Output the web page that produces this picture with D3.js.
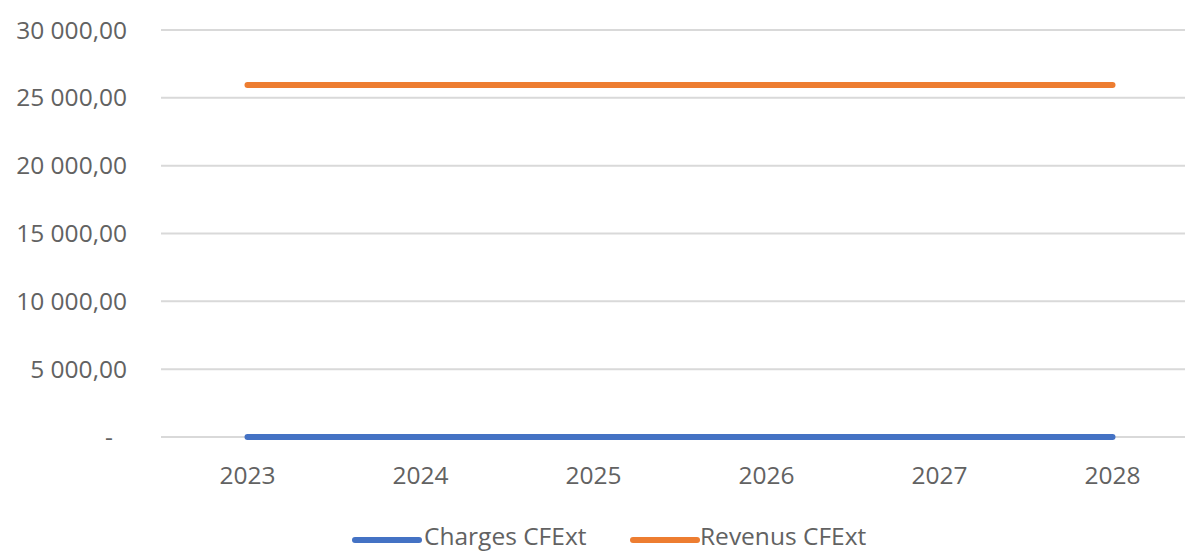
<!DOCTYPE html>
<html lang="fr">
<head>
  <meta charset="UTF-8">
  <title>CFExt</title>
  <style>
    body { margin: 0; background: #fff; }
    text { font-family: "Open Sans", sans-serif; fill: #626262; }
  </style>
</head>
<body>
  <script src="https://d3js.org/d3.v7.min.js"></script>
  <script>
    const years = ["2023", "2024", "2025", "2026", "2027", "2028"];
    const charges = [0, 0, 0, 0, 0, 0];
    const revenus = [25950, 25950, 25950, 25950, 25950, 25950];
    const seriesNames = ["Charges CFExt", "Revenus CFExt"];
    const colors = ["#4472C4", "#ED7D31"];
    const yTicks = [0, 5000, 10000, 15000, 20000, 25000, 30000];

    const width = 1185, height = 552;
    const svg = d3.select("body").append("svg")
      .attr("width", width).attr("height", height);

    const x = d3.scalePoint().domain(years).range([161, 1199]).padding(0.5);
    const y = d3.scaleLinear().domain([0, 30000]).range([437, 30]);

    const fr = d3.formatLocale({ decimal: ",", thousands: "\u00a0", grouping: [3], currency: ["", ""] });
    const fmt = v => v === 0 ? "-" : fr.format(",.2f")(v);

    // grid
    svg.append("g")
      .selectAll("line")
      .data(yTicks)
      .join("line")
      .attr("x1", 161).attr("x2", 1199)
      .attr("y1", d => y(d)).attr("y2", d => y(d))
      .attr("stroke", "#d9d9d9").attr("stroke-width", 2);

    // y labels
    svg.append("g")
      .selectAll("text")
      .data(yTicks)
      .join("text")
      .attr("x", d => d === 0 ? 113 : 127)
      .attr("y", d => y(d))
      .attr("dy", "0.35em")
      .attr("text-anchor", "end")
      .attr("font-size", 24.5)
      .text(fmt);

    // x labels
    svg.append("g")
      .selectAll("text")
      .data(years)
      .join("text")
      .attr("x", d => x(d))
      .attr("y", 484)
      .attr("text-anchor", "middle")
      .attr("font-size", 24.5)
      .text(d => d);

    const line = d3.line().x((d, i) => x(years[i])).y(d => y(d));
    [charges, revenus].forEach((s, i) => {
      svg.append("path")
        .datum(s)
        .attr("fill", "none")
        .attr("stroke", colors[i])
        .attr("stroke-width", 6)
        .attr("stroke-linecap", "round")
        .attr("d", line);
    });

    // legend
    const leg = [{ x: 355, tx: 424 }, { x: 633, tx: 700 }];
    seriesNames.forEach((n, i) => {
      svg.append("line")
        .attr("x1", leg[i].x).attr("x2", leg[i].x + 64)
        .attr("y1", 540).attr("y2", 540)
        .attr("stroke", colors[i]).attr("stroke-width", 6)
        .attr("stroke-linecap", "round");
      svg.append("text")
        .attr("x", leg[i].tx).attr("y", 536)
        .attr("dy", "0.35em")
        .attr("font-size", 24.5)
        .text(n);
    });
  </script>
</body>
</html>
